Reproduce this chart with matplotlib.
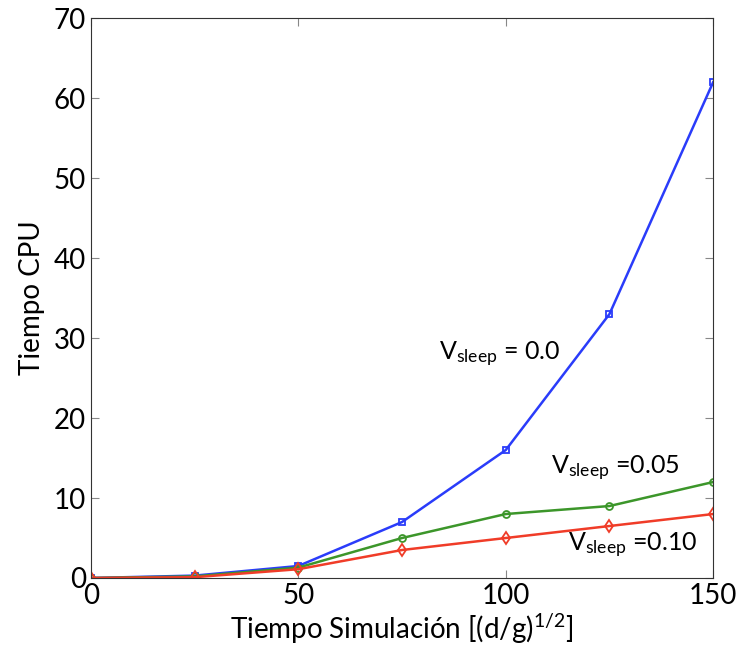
import matplotlib
matplotlib.use('Agg')
import matplotlib.pyplot as plt

# data
t = [0, 25, 50, 75, 100, 125, 150]
cpu_00 = [0, 0.3, 1.5, 7, 16, 33, 62]
cpu_05 = [0, 0.2, 1.3, 5, 8, 9, 12]
cpu_10 = [0, 0.1, 1.1, 3.5, 5, 6.5, 8]

plt.rcParams['font.family'] = ['Lato', 'DejaVu Sans']
plt.rcParams['mathtext.fontset'] = 'custom'
plt.rcParams['mathtext.rm'] = 'Lato'
plt.rcParams['mathtext.it'] = 'Lato:italic'

fig = plt.figure(figsize=(7.39, 6.52), dpi=100)
ax = fig.add_axes([0.123, 0.1135, 0.842, 0.8585])

ax.plot(t, cpu_00, '-s', color='#2a3cfa', lw=1.8, ms=5, mfc='none', mew=1.3)
ax.plot(t, cpu_05, '-o', color='#3c962a', lw=1.8, ms=5, mfc='none', mew=1.3)
ax.plot(t, cpu_10, '-d', color='#f03c28', lw=1.8, ms=6, mfc='none', mew=1.3)

ax.set_xlim(0, 150)
ax.set_ylim(0, 70)
ax.set_xticks([0, 50, 100, 150])
ax.set_yticks(range(0, 71, 10))
ax.tick_params(direction='in', top=True, right=True, labelsize=20, length=6, color='#888888')
for s in ax.spines.values():
    s.set_color('#333333')

ax.set_xlabel(r'Tiempo Simulación [(d/g)$^{1/2}$]', fontsize=20, labelpad=2)
ax.set_ylabel('Tiempo CPU', fontsize=20, labelpad=6)

ax.text(84, 28, r'V$_{\mathrm{sleep}}$ = 0.0', fontsize=18, va='center')
ax.text(111, 13.7, r'V$_{\mathrm{sleep}}$ =0.05', fontsize=18, va='center')
ax.text(115, 4.1, r'V$_{\mathrm{sleep}}$ =0.10', fontsize=18, va='center')

fig.savefig('out.png', dpi=100)
